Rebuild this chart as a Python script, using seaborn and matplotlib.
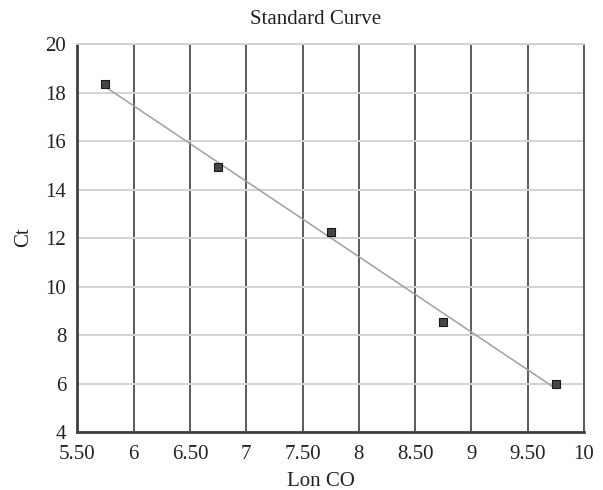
import matplotlib
matplotlib.use('Agg')
import matplotlib.pyplot as plt
import seaborn as sns
import pandas as pd

# standard curve data
lon_co = [5.75, 6.75, 7.75, 8.75, 9.75]
ct = [18.35, 14.95, 12.25, 8.52, 6.0]

x_ticks = [5.5, 6, 6.5, 7, 7.5, 8, 8.5, 9, 9.5, 10]
x_tick_labels = ['5.50', '6', '6.50', '7', '7.50', '8', '8.50', '9', '9.50', '10']
y_ticks = [4, 6, 8, 10, 12, 14, 16, 18, 20]

df = pd.DataFrame({'Lon CO': lon_co, 'Ct': ct})

sns.set_theme(style='white')
plt.rcParams['font.family'] = ['Liberation Serif', 'DejaVu Serif']

fig = plt.figure(figsize=(6.03, 4.90), dpi=100)
ax = fig.add_axes([77.3/603, 58/490, 506.7/603, 387.7/490])

# linear trendline, then the markers on top
sns.regplot(data=df, x='Lon CO', y='Ct', ci=None, scatter=False, truncate=True,
            line_kws={'color': '#a0a0a0', 'lw': 1.1, 'zorder': 3}, ax=ax)
sns.scatterplot(data=df, x='Lon CO', y='Ct', marker='s', s=30, color='#454545',
                edgecolor='#1a1a1a', linewidth=0.8, zorder=4, ax=ax)

ax.set_xlim(5.5, 10)
ax.set_ylim(4, 20)
ax.set_xticks(x_ticks)
ax.set_xticklabels(x_tick_labels)
ax.set_yticks(y_ticks)
ax.tick_params(axis='both', length=0, labelsize=15, colors='#222222')
ax.tick_params(axis='x', pad=9)
ax.tick_params(axis='y', pad=8)

ax.grid(axis='x', color='#5a5a5a', lw=1.4)
ax.grid(axis='y', color='#d2d2d2', lw=1.4)
ax.set_axisbelow(True)

ax.spines['left'].set_color('#404040')
ax.spines['left'].set_linewidth(2)
ax.spines['bottom'].set_color('#404040')
ax.spines['bottom'].set_linewidth(2)
ax.spines['top'].set_color('#d2d2d2')
ax.spines['top'].set_linewidth(1.4)
ax.spines['right'].set_color('#5a5a5a')
ax.spines['right'].set_linewidth(1.4)

ax.set_xlabel('')
ax.set_ylabel('')
fig.text(316/603, 1 - 20/490, 'Standard Curve', ha='center', va='center',
         fontsize=15, color='#222222')
fig.text(321/603, 1 - 481/490, 'Lon CO', ha='center', va='center',
         fontsize=15, color='#222222')
fig.text(24/603, 1 - 237/490, 'Ct', ha='center', va='center', rotation=90,
         fontsize=15, color='#222222')

fig.savefig('out.png', dpi=100)
